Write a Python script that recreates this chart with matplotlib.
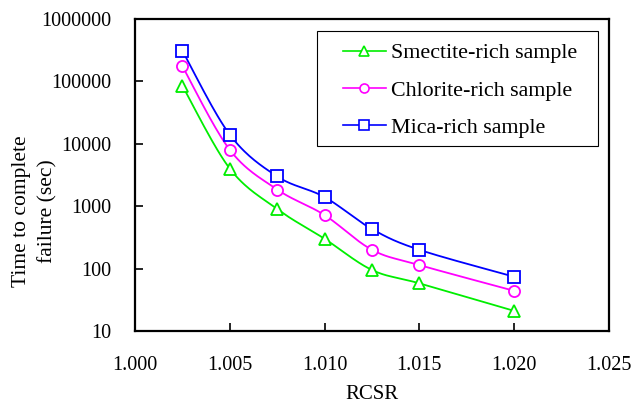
import numpy as np
import matplotlib
matplotlib.use("Agg")
import matplotlib.pyplot as plt
from matplotlib.ticker import FixedLocator, NullLocator, FixedFormatter
from matplotlib.patches import Rectangle

rcsr = [1.0025, 1.005, 1.0075, 1.010, 1.0125, 1.015, 1.020]
smectite = [85000, 4000, 900, 300, 95, 58, 21]
chlorite = [175000, 8000, 1850, 720, 200, 114, 44]
mica = [310000, 14000, 3000, 1400, 430, 200, 74]

labels = ["Smectite-rich sample", "Chlorite-rich sample", "Mica-rich sample"]
colors = ["#00ee00", "#ff00ff", "#0000ff"]
markers = ["^", "o", "s"]

x_ticks = [1.000, 1.005, 1.010, 1.015, 1.020, 1.025]
x_ticklabels = ["1.000", "1.005", "1.010", "1.015", "1.020", "1.025"]
y_ticks = [10, 100, 1000, 10000, 100000, 1000000]
y_ticklabels = ["10", "100", "1000", "10000", "100000", "1000000"]

plt.rcParams['font.family'] = ['Liberation Serif', 'DejaVu Serif']


def smooth(xs, ys, n=30):
    # Excel-like smoothed line (Bezier with 1/6 tangents) in (x, log y) space
    x = np.asarray(xs, float)
    y = np.log10(np.asarray(ys, float))
    px, py = [], []
    m = len(x)
    for i in range(m - 1):
        x0, y0 = (x[i - 1], y[i - 1]) if i > 0 else (x[i], y[i])
        x3, y3 = (x[i + 2], y[i + 2]) if i + 2 < m else (x[i + 1], y[i + 1])
        c1x = x[i] + (x[i + 1] - x0) / 6
        c1y = y[i] + (y[i + 1] - y0) / 6
        c2x = x[i + 1] - (x3 - x[i]) / 6
        c2y = y[i + 1] - (y3 - y[i]) / 6
        t = np.linspace(0, 1, n)
        bx = (1 - t) ** 3 * x[i] + 3 * (1 - t) ** 2 * t * c1x + 3 * (1 - t) * t ** 2 * c2x + t ** 3 * x[i + 1]
        by = (1 - t) ** 3 * y[i] + 3 * (1 - t) ** 2 * t * c1y + 3 * (1 - t) * t ** 2 * c2y + t ** 3 * y[i + 1]
        px.extend(bx)
        py.extend(by)
    return np.array(px), 10 ** np.array(py)


W, H = 632, 407
fig = plt.figure(figsize=(W / 100, H / 100), dpi=100)
ax = fig.add_axes([135 / W, 1 - 331 / H, (609 - 135) / W, (331 - 19) / H])

for ys, lab, c, mk in zip([smectite, chlorite, mica], labels, colors, markers):
    sx, sy = smooth(rcsr, ys)
    ax.plot(sx, sy, color=c, lw=1.3, zorder=2)
    ax.plot(rcsr, ys, ls='none', marker=mk, ms=8,
            mfc='white', mec=c, mew=1.3, zorder=3)
    ax.plot([], [], color=c, lw=1.2, marker=mk, ms=6.5, mfc='white', mec=c, mew=1.2, label=lab)

ax.set_yscale('log')
ax.set_xlim(1.000, 1.025)
ax.set_ylim(10, 1000000)
ax.xaxis.set_major_locator(FixedLocator(x_ticks))
ax.xaxis.set_major_formatter(FixedFormatter(x_ticklabels))
ax.yaxis.set_major_locator(FixedLocator(y_ticks))
ax.yaxis.set_major_formatter(FixedFormatter(y_ticklabels))
ax.yaxis.set_minor_locator(NullLocator())
ax.tick_params(axis='both', direction='in', length=6, width=1.2, labelsize=14.5)
ax.tick_params(axis='x', pad=18)
ax.tick_params(axis='y', pad=17)
for s in ax.spines.values():
    s.set_linewidth(1.6)

ax.set_xlabel("RCSR", fontsize=15, labelpad=7)
ax.set_ylabel("Time to complete\nfailure (sec)", fontsize=15.5, linespacing=1.5)
ax.yaxis.set_label_coords(-0.212, 0.385)
ax.yaxis.label.set_verticalalignment('center')

# legend box
ax.add_patch(Rectangle((317 / W, 1 - 146 / H), (598 - 317) / W, (146 - 31) / H,
                       transform=fig.transFigure, facecolor='white',
                       edgecolor='black', lw=0.8, zorder=4, clip_on=False))
leg = ax.legend(loc='upper left', bbox_to_anchor=(343 / W, 1 - 43 / H), bbox_transform=fig.transFigure,
                fontsize=15.8, frameon=False, handlelength=1.95, borderpad=0,
                labelspacing=0.77, handletextpad=0.25, borderaxespad=0)
leg.set_zorder(6)

fig.savefig("out.png", dpi=100)
